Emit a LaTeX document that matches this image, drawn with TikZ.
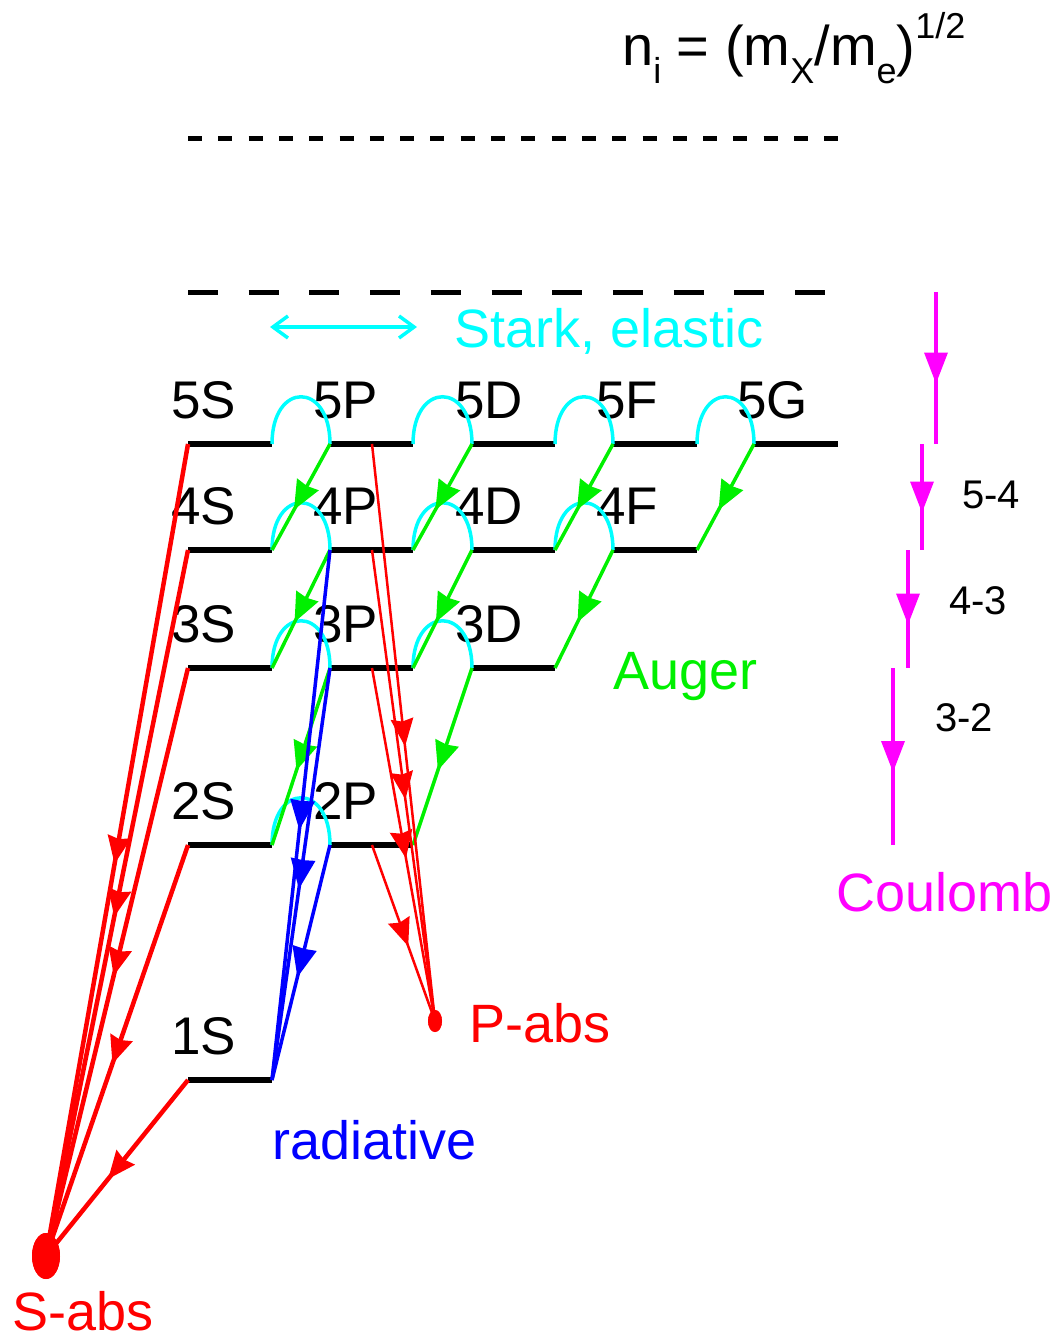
\documentclass[tikz,border=0pt]{standalone}
\usepackage{fontspec}
\setmainfont{Liberation Sans}
\usetikzlibrary{arrows.meta,decorations.markings,shapes.geometric}
\definecolor{cRed}{RGB}{255,0,0}
\definecolor{cGreen}{RGB}{0,240,0}
\definecolor{cCyan}{RGB}{0,255,255}
\definecolor{cBlue}{RGB}{0,0,255}
\definecolor{cMag}{RGB}{255,0,255}
\newcommand\subsz{\fontsize{36}{40}\selectfont}
\tikzset{
  lvline/.style={line width=6pt, black},
  lbl/.style={inner sep=0pt, anchor=base west, font=\fontsize{53}{60}\selectfont},
  txt/.style={inner sep=0pt, anchor=base west, font=\fontsize{54}{60}\selectfont},
  smalltxt/.style={inner sep=0pt, anchor=base west, font=\fontsize{40}{44}\selectfont},
  % arrowhead centred on the middle of the path: #1 colour, #2 length, #3 half width, #4 notch
  midarr/.style n args={4}{postaction={decorate},
    decoration={markings, mark=at position 0.5 with {
      \fill[#1] (#2/2,0pt) -- (-#2/2,#3) -- (-#2/2+#4,0pt) -- (-#2/2,-#3) -- cycle;}}},
  starkarc/.style={cCyan, line width=3.5pt},
  auger/.style={cGreen, line width=3.5pt, midarr={cGreen}{29pt}{12.5pt}{2pt}},
  radiat/.style={cBlue, line width=3.5pt, midarr={cBlue}{30pt}{12.5pt}{1pt}},
  sabsline/.style={cRed, line width=4.5pt, midarr={cRed}{28pt}{12pt}{3pt}},
  pabsline/.style={cRed, line width=2.5pt, midarr={cRed}{28pt}{11.5pt}{3pt}},
  coul/.style={cMag, line width=4.5pt, midarr={cMag}{31pt}{12pt}{0pt}},
}
\begin{document}
\begin{tikzpicture}[x=1pt,y=-1pt]
\useasboundingbox (0,0) rectangle (1059,1339);

% formula
\node[inner sep=0pt, anchor=base west, font=\fontsize{56}{60}\selectfont] (formula) at (622,65)
  {n\raisebox{-18pt}{\subsz i} = (m\raisebox{-18pt}{\subsz X}/m\raisebox{-18pt}{\subsz e})\raisebox{27pt}{\subsz 1/2}};

% dashed limits
\coordinate (da1) at (188,138); \coordinate (da2) at (838,138);
\coordinate (db1) at (188,292); \coordinate (db2) at (825,292);
\draw[line width=5pt, dash pattern=on 14pt off 16.3pt] (da1) -- (da2);
\draw[line width=5pt, dash pattern=on 30pt off 30.7pt] (db1) -- (db2);

% levels
\foreach \nr/\yy/\lst in {
  5/444/{S/188/272,P/330/413,D/472/555,F/613/697,G/754/838},
  4/550/{S/188/272,P/330/413,D/472/555,F/613/697},
  3/668/{S/188/272,P/330/413,D/472/555},
  2/845/{S/188/272,P/330/413},
  1/1080/{S/188/272}} {
  \foreach \lv/\xa/\xb in \lst {
    \coordinate (\nr\lv L) at (\xa,\yy);
    \coordinate (\nr\lv R) at (\xb,\yy);
    \draw[lvline] (\nr\lv L) -- (\nr\lv R);
    \node[lbl] (lab\nr\lv) at ({\xa-17},{\yy-26}) {\nr\lv};
  }
}
\foreach \nr/\yy in {5/444,4/550,3/668,2/845}
  \coordinate (\nr PM) at (372,\yy);

% Stark arrow and arcs
\coordinate (st1) at (270,327); \coordinate (st2) at (417,327);
\draw[cCyan, line width=3.5pt, {Straight Barb[length=15pt,width=22pt]}-{Straight Barb[length=15pt,width=22pt]}] (st1) -- (st2);
\foreach \a/\b in {5SR/5PL,5PR/5DL,5DR/5FL,5FR/5GL,4SR/4PL,4PR/4DL,4DR/4FL,3SR/3PL,3PR/3DL,2SR/2PL}
  \draw[starkarc] (\a) .. controls +(0,-63) and +(0,-63) .. (\b);

% Auger
\foreach \a/\b in {5PL/4SR,5DL/4PR,5FL/4DR,5GL/4FR,4PL/3SR,4DL/3PR,4FL/3DR,3PL/2SR,3DL/2PR}
  \draw[auger] (\a) -- (\b);

% radiative
\foreach \a in {4PL,3PL,2PL}
  \draw[radiat] (\a) -- (1SR);

% absorption points
\node[ellipse, fill=cRed, inner sep=0pt, minimum width=28pt, minimum height=46pt] (sabs) at (46,1256) {};
\node[ellipse, fill=cRed, inner sep=0pt, minimum width=14pt, minimum height=22pt] (pabs) at (435,1021) {};
\foreach \a in {5SL,4SL,3SL,2SL,1SL}
  \draw[sabsline] (\a) -- (sabs.center);
\foreach \a in {5PM,4PM,3PM,2PM}
  \draw[pabsline] (\a) -- (pabs.center);
\node[ellipse, fill=cRed, inner sep=0pt, minimum width=28pt, minimum height=46pt] (sabsdot) at (sabs.center) {};
\node[ellipse, fill=cRed, inner sep=0pt, minimum width=14pt, minimum height=22pt] (pabsdot) at (pabs.center) {};

% Coulomb cascade
\coordinate (c0) at (936,292); \coordinate (c1a) at (936,444);
\coordinate (c1b) at (922,444); \coordinate (c2a) at (922,550);
\coordinate (c2b) at (908,550); \coordinate (c3a) at (908,668);
\coordinate (c3b) at (893,668); \coordinate (c4) at (893,845);
\draw[coul] (c0) -- (c1a);
\draw[coul] (c1b) -- (c2a);
\draw[coul] (c2b) -- (c3a);
\draw[coul] (c3b) -- (c4);
\node[smalltxt] (l54) at (962,508) {5-4};
\node[smalltxt] (l43) at (949,614) {4-3};
\node[smalltxt] (l32) at (935,731) {3-2};

% legend texts
\node[txt, text=cCyan] (stark) at (454,347) {Stark, elastic};
\node[txt, text=cGreen] (augerlbl) at (613,689) {Auger};
\node[txt, text=cMag] (coulomb) at (836,911) {Coulomb};
\node[txt, text=cRed] (pabslbl) at (469,1042) {P-abs};
\node[txt, text=cRed] (sabslbl) at (12,1330) {S-abs};
\node[txt, text=cBlue] (radlbl) at (272,1159) {radiative};
\end{tikzpicture}
\end{document}
